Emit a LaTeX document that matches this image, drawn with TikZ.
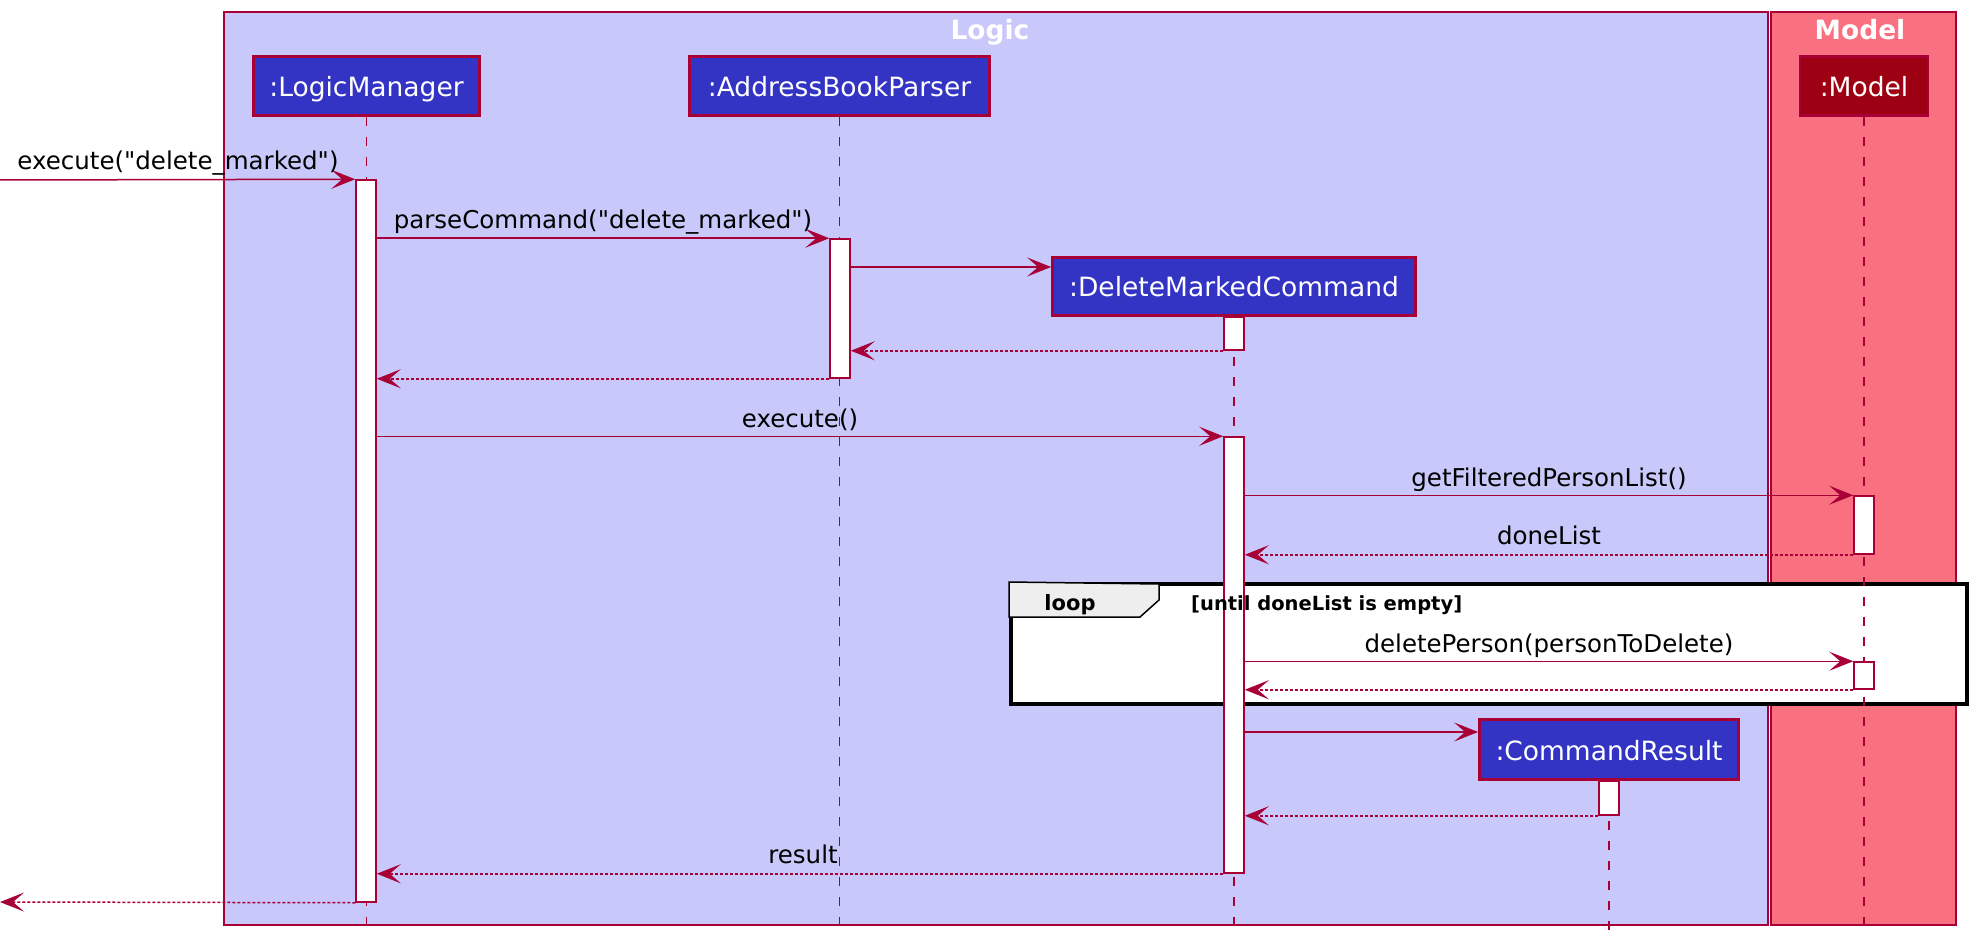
\documentclass[tikz,border=0pt]{standalone}
\usepackage{fontspec}
\setmainfont{DejaVu Sans}[Ligatures=TeXOff]
\usetikzlibrary{arrows.meta,fit}
\definecolor{bord}{HTML}{A80036}
\definecolor{logicbg}{HTML}{C8C8FA}
\definecolor{modelbg}{HTML}{F97181}
\definecolor{partblue}{HTML}{3333C4}
\definecolor{partred}{HTML}{9D0012}
\definecolor{tabgray}{HTML}{EEEEEE}
\begin{document}
\begin{tikzpicture}[x=1pt,y=-1pt,
  grp/.style={draw=bord,line width=1.5pt,inner sep=0pt},
  grptitle/.style={text=white,font=\fontsize{26.5}{30}\selectfont\bfseries,anchor=base,inner sep=0pt},
  part/.style={draw=bord,line width=2.7pt,text=white,font=\fontsize{26.5}{30}\selectfont,inner sep=0pt,text height=21pt,text depth=0pt},
  life/.style={draw=bord,line width=1.5pt,dash pattern=on 9pt off 11pt},
  act/.style={draw=bord,fill=white,line width=1.5pt,inner sep=0pt},
  msg/.style={draw=bord,line width=1.5pt,-{Stealth[length=24pt,width=19pt,inset=11pt]}},
  ret/.style={msg,dash pattern=on 3pt off 2pt},
  lbl/.style={font=\fontsize{24.5}{28}\selectfont,anchor=base,inner sep=0pt},
  looptxt/.style={font=\fontsize{21}{24}\selectfont\bfseries,anchor=base,inner sep=0pt},
  guardtxt/.style={font=\fontsize{19.5}{22}\selectfont\bfseries,anchor=base west,inner sep=0pt},
  ]
\useasboundingbox (0,0) rectangle (1977,949);
% group frames
\node[grp,fill=logicbg,fit={(224,12) (1768,925)}] (logic) {};
\node[grp,fill=modelbg,fit={(1771,12) (1956,925)}] (model) {};
\node[grptitle] (logict) at (990,40) {Logic};
\node[grptitle] (modelt) at (1860,40) {Model};
% loop frame
\node[draw=black,fill=white,line width=4pt,inner sep=0pt,fit={(1011,584) (1967,704)}] (loop) {};
\filldraw[fill=tabgray,draw=black,line width=1.5pt] (loop.north west) -- (1159,584) -- (1159,600) -- (1140,617) -- (loop.west |- 0,617) -- cycle;
% participants
\node[part,fill=partblue,minimum width=226pt,minimum height=59pt] (lm) at (366.5,86) {:LogicManager};
\node[part,fill=partblue,minimum width=300pt,minimum height=59pt] (abp) at (839.5,86) {:AddressBookParser};
\node[part,fill=partblue,minimum width=363pt,minimum height=58pt] (dmc) at (1234,286.5) {:DeleteMarkedCommand};
\node[part,fill=partblue,minimum width=259pt,minimum height=60pt] (cr) at (1609,749.5) {:CommandResult};
\node[part,fill=partred,minimum width=128pt,minimum height=59pt] (mdl) at (1864,86) {:Model};
% lifelines
\draw[life] (lm.south) -- (lm.south |- 0,930);
\draw[life] (abp.south) -- (abp.south |- 0,930);
\draw[life] (dmc.south) -- (dmc.south |- 0,930);
\draw[life] (cr.south) -- (cr.south |- 0,932);
\draw[life] (mdl.south) -- (mdl.south |- 0,930);
% activation bars
\node[act,fit={(356,180) (376,902)}] (lm1) {};
\node[act,fit={(830,239) (850,378)}] (abp1) {};
\node[act,fit={(1224,317) (1244,350)}] (dmc1) {};
\node[act,fit={(1224,437) (1244,873)}] (dmc2) {};
\node[act,fit={(1854,496) (1874,554)}] (mdl1) {};
\node[act,fit={(1854,662) (1874,689)}] (mdl2) {};
\node[act,fit={(1599,781) (1619,815)}] (cr1) {};
% messages
\coordinate (src) at (0,180);
\coordinate (snk) at (0,902);
\draw[msg] (src) -- (lm1.north west);
\draw[msg] (lm1.east |- abp1.north) -- (abp1.north west);
\draw[msg] (abp1.east |- 0,267) -- (dmc.west |- 0,267);
\draw[ret] (dmc1.south west) -- (abp1.east |- dmc1.south);
\draw[ret] (abp1.south west) -- (lm1.east |- abp1.south);
\draw[msg] (lm1.east |- dmc2.north) -- (dmc2.north west);
\draw[msg] (dmc2.east |- mdl1.north) -- (mdl1.north west);
\draw[ret] (mdl1.south west) -- (dmc2.east |- mdl1.south);
\draw[msg] (dmc2.east |- mdl2.north) -- (mdl2.north west);
\draw[ret] (mdl2.south west) -- (dmc2.east |- mdl2.south);
\draw[msg] (dmc2.east |- 0,732) -- (cr.west |- 0,732);
\draw[ret] (cr1.south west) -- (dmc2.east |- cr1.south);
\draw[ret] (dmc2.south west) -- (lm1.east |- dmc2.south);
\draw[ret] (lm1.south west) -- (snk);
% labels
\node[lbl] (t1) at (178,170) {execute("delete\_marked")};
\node[lbl] (t2) at (603,229) {parseCommand("delete\_marked")};
\node[lbl] (t3) at (800,427) {execute()};
\node[lbl] (t4) at (1549,486) {getFilteredPersonList()};
\node[lbl] (t5) at (1549,544) {doneList};
\node[lbl] (t6) at (1549,652) {deletePerson(personToDelete)};
\node[lbl] (t7) at (803,863) {result};
\node[looptxt] (lt) at (1070,610) {loop};
\node[guardtxt] (gt) at (1191,610) {[until doneList is empty]};
\end{tikzpicture}
\end{document}
